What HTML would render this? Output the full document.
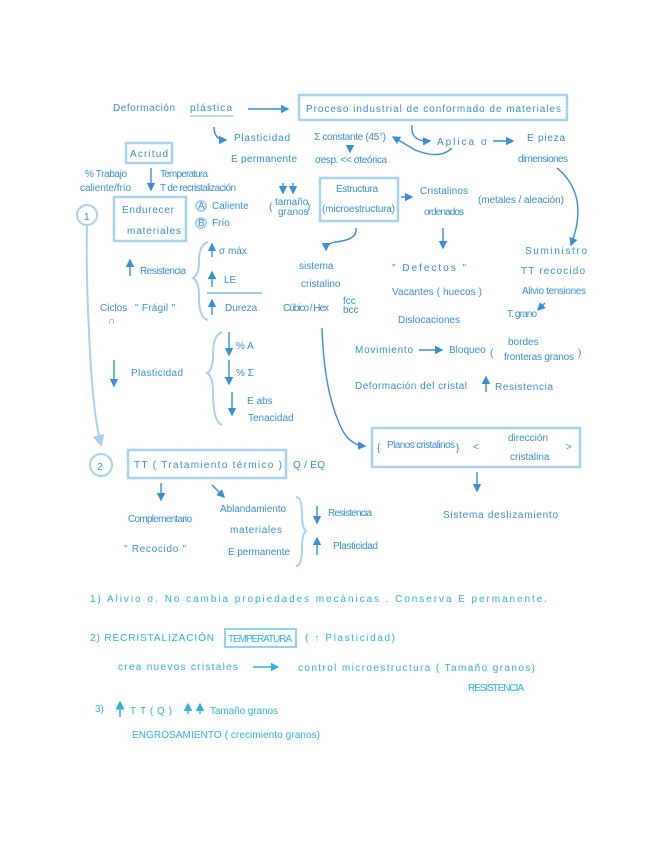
<!DOCTYPE html>
<html><head><meta charset="utf-8"><style>
html,body{margin:0;padding:0;background:#fff}
svg{display:block}
text{font-family:"Liberation Sans",sans-serif;fill:#3a8fd8;font-size:10px}
.c text{fill:#2fb3e0}
.b{fill:none;stroke:#a9d2f2;stroke-width:2.5}
.l{fill:none;stroke:#3a8fd8;stroke-width:1.4}
.ll{fill:none;stroke:#a9d2f2;stroke-width:2}
</style></head><body>
<svg width="655" height="848" viewBox="0 0 655 848" xmlns="http://www.w3.org/2000/svg">
<defs>
<marker id="a" markerWidth="6" markerHeight="6" refX="5" refY="3" orient="auto"><path d="M0,0L6,3L0,6z" fill="#3a8fd8"/></marker>
<marker id="a2" markerWidth="6" markerHeight="6" refX="5" refY="3" orient="auto"><path d="M0,0L6,3L0,6z" fill="#a9d2f2"/></marker>
<marker id="a3" markerWidth="6" markerHeight="6" refX="5" refY="3" orient="auto"><path d="M0,0L6,3L0,6z" fill="#2fb3e0"/></marker>
</defs>

<!-- top -->
<text x="113" y="111" font-size="11" textLength="62">Deformación</text>
<text x="190" y="111" font-size="11" textLength="42">plástica</text>
<line x1="190" y1="116" x2="233" y2="116" stroke="#a9d2f2" stroke-width="1.5"/>
<line class="l" x1="248" y1="109" x2="288" y2="109" marker-end="url(#a)"/>
<rect class="b" x="299" y="95" width="268" height="25"/>
<text x="306" y="112" textLength="255">Proceso industrial de conformado de materiales</text>

<path class="l" d="M214,127 Q214,140 226,140" marker-end="url(#a)"/>
<text x="234" y="141" textLength="56">Plasticidad</text>
<text x="231" y="162" textLength="66">E permanente</text>
<text x="314" y="140" textLength="72">Σ constante (45°)</text>
<line class="l" x1="350" y1="145" x2="350" y2="152" marker-end="url(#a)"/>
<text x="315" y="163" textLength="72">σesp. &lt;&lt; σteórica</text>
<path class="l" d="M412,125 Q410,142 430,141" marker-end="url(#a)"/>
<path class="l" d="M452,148 Q440,160 415,150 Q402,142 393,137" marker-end="url(#a)"/>
<text x="437" y="145" textLength="50">Aplica σ</text>
<line class="l" x1="493" y1="141" x2="513" y2="141" marker-end="url(#a)"/>
<text x="527" y="141" textLength="38">E pieza</text>
<text x="518" y="162" textLength="50">dimensiones</text>
<path class="l" d="M557,168 Q590,195 571,245" marker-end="url(#a)"/>

<rect class="b" x="126" y="143" width="46" height="20"/>
<text x="130" y="157" textLength="38">Acritud</text>
<text x="85" y="177" font-size="9" textLength="42">% Trabajo</text>
<text x="80" y="191" font-size="9" textLength="51">caliente/frío</text>
<line class="l" x1="151" y1="168" x2="151" y2="190" marker-end="url(#a)"/>
<text x="160" y="177" font-size="9" textLength="48">Temperatura</text>
<text x="160" y="191" font-size="9" textLength="76">T de recristalización</text>

<circle cx="87" cy="215" r="10" class="ll"/>
<text x="84" y="220" font-size="12">1</text>
<rect class="b" x="114" y="197" width="72" height="44"/>
<text x="122" y="213" textLength="52">Endurecer</text>
<text x="127" y="234" textLength="54">materiales</text>
<circle cx="201" cy="206" r="5" class="ll"/><text x="198" y="209" font-size="7">A</text>
<text x="212" y="209" font-size="9">Caliente</text>
<circle cx="201" cy="223" r="5" class="ll"/><text x="198" y="226" font-size="7">B</text>
<text x="212" y="226" font-size="9">Frío</text>

<line class="l" x1="283" y1="183" x2="283" y2="193" marker-end="url(#a)"/>
<line class="l" x1="293" y1="183" x2="293" y2="193" marker-end="url(#a)"/>
<text x="269" y="210" font-size="16">(</text><text x="307" y="210" font-size="16">)</text>
<text x="275" y="205" font-size="8">tamaño</text><text x="278" y="215" font-size="8">granos</text>
<rect class="b" x="320" y="178" width="78" height="43"/>
<text x="336" y="192" font-size="9" textLength="42">Estructura</text>
<text x="322" y="212" font-size="9" textLength="73">(microestructura)</text>
<line class="l" x1="401" y1="197" x2="412" y2="197" marker-end="url(#a)"/>
<text x="420" y="194" font-size="9" textLength="48">Cristalinos</text>
<text x="424" y="215" font-size="9" textLength="40">ordenados</text>
<text x="478" y="203" font-size="9" textLength="86">(metales / aleación)</text>
<line class="l" x1="443" y1="228" x2="443" y2="248" marker-end="url(#a)"/>

<path class="l" d="M356,228 Q358,240 335,242 Q326,244 326,250" marker-end="url(#a)"/>
<text x="299" y="269" font-size="9">sistema</text>
<text x="301" y="287" font-size="9">cristalino</text>
<text x="283" y="311" font-size="9" textLength="46">Cúbico / Hex</text>
<text x="343" y="304" font-size="7">fcc</text><text x="343" y="313" font-size="7">bcc</text>
<text x="392" y="271" font-size="9" textLength="74">" Defectos "</text>
<text x="392" y="295" font-size="9" textLength="90">Vacantes ( huecos )</text>
<text x="398" y="323" font-size="9" textLength="62">Dislocaciones</text>
<text x="525" y="254" font-size="9" textLength="62">Suministro</text>
<text x="521" y="274" font-size="9" textLength="64">TT recocido</text>
<text x="522" y="294" font-size="9" textLength="64">Alivio tensiones</text>
<text x="507" y="317" font-size="9" textLength="30">T. grano</text>
<line class="l" x1="545" y1="303" x2="538" y2="310" marker-end="url(#a)"/>

<line class="l" x1="130" y1="276" x2="130" y2="260" marker-end="url(#a)"/>
<text x="140" y="274" font-size="9" textLength="46">Resistencia</text>
<path class="ll" d="M208,242 Q198,245 199,265 Q198,275 193,278 Q198,281 199,292 Q198,318 208,320"/>
<line class="l" x1="212" y1="257" x2="212" y2="244" marker-end="url(#a)"/>
<text x="219" y="254" font-size="9">σ máx</text>
<line class="l" x1="212" y1="287" x2="212" y2="272" marker-end="url(#a)"/>
<text x="224" y="283" font-size="9">LE</text>
<line x1="207" y1="293" x2="262" y2="293" stroke="#3a8fd8" stroke-width="1"/>
<line class="l" x1="212" y1="315" x2="212" y2="300" marker-end="url(#a)"/>
<text x="225" y="311" font-size="9">Dureza</text>
<text x="100" y="311" font-size="9">Ciclos</text><text x="108" y="324" font-size="9">∩</text>
<text x="135" y="311" font-size="9" textLength="40">" Frágil "</text>

<line class="l" x1="114" y1="360" x2="114" y2="386" marker-end="url(#a)"/>
<text x="131" y="376" font-size="9" textLength="52">Plasticidad</text>
<path class="ll" d="M222,332 Q213,335 213,355 Q213,370 207,373 Q213,376 213,392 Q213,422 222,425"/>
<line class="l" x1="229" y1="332" x2="229" y2="355" marker-end="url(#a)"/><text x="236" y="349" font-size="9">% A</text>
<line class="l" x1="229" y1="360" x2="229" y2="384" marker-end="url(#a)"/><text x="236" y="376" font-size="9">% Σ</text>
<line class="l" x1="232" y1="392" x2="232" y2="415" marker-end="url(#a)"/>
<text x="247" y="404" font-size="9">E abs</text><text x="248" y="421" font-size="9">Tenacidad</text>

<path class="ll" d="M87,226 Q86,280 89,330 Q92,410 101,445" marker-end="url(#a2)"/>
<path class="l" d="M322,328 Q324,390 340,425 Q348,445 365,446" marker-end="url(#a)"/>

<text x="355" y="353" font-size="9" textLength="58">Movimiento</text>
<line class="l" x1="419" y1="350" x2="442" y2="350" marker-end="url(#a)"/>
<text x="449" y="353" font-size="9">Bloqueo</text>
<text x="490" y="356" font-size="14">(</text>
<text x="508" y="345" font-size="7">bordes</text>
<text x="504" y="360" font-size="7" textLength="70">fronteras granos</text>
<text x="578" y="356" font-size="14">)</text>
<text x="355" y="389" font-size="9" textLength="112">Deformación del cristal</text>
<line class="l" x1="486" y1="392" x2="486" y2="377" marker-end="url(#a)"/>
<text x="495" y="390" font-size="9" textLength="58">Resistencia</text>

<rect class="b" x="372" y="428" width="208" height="39"/>
<text x="377" y="451" font-size="16">{</text>
<text x="387" y="448" font-size="9" textLength="68">Planos cristalinos</text>
<text x="456" y="451" font-size="16">}</text>
<text x="473" y="450" font-size="12">&lt;</text>
<text x="508" y="441" font-size="9">dirección</text>
<text x="510" y="460" font-size="9">cristalina</text>
<text x="566" y="450" font-size="12">&gt;</text>
<line class="l" x1="477" y1="472" x2="477" y2="491" marker-end="url(#a)"/>
<text x="443" y="518" font-size="9" textLength="115">Sistema deslizamiento</text>

<circle cx="101" cy="465" r="11" class="ll"/>
<text x="97" y="470" font-size="12">2</text>
<rect class="b" x="128" y="450" width="158" height="28"/>
<text x="134" y="468" font-size="10" textLength="148">TT ( Tratamiento térmico )</text>
<text x="293" y="468" font-size="10" textLength="32">Q / EQ</text>
<line class="l" x1="161" y1="483" x2="161" y2="500" marker-end="url(#a)"/>
<line class="l" x1="212" y1="485" x2="224" y2="497" marker-end="url(#a)"/>
<text x="128" y="522" font-size="8" textLength="64">Complementario</text>
<text x="124" y="552" font-size="9" textLength="62">" Recocido "</text>
<text x="220" y="512" font-size="8" textLength="66">Ablandamiento</text>
<text x="230" y="533" font-size="8" textLength="52">materiales</text>
<text x="228" y="555" font-size="8" textLength="62">E permanente</text>
<path class="ll" d="M296,497 Q302,497 302,515 Q302,528 306,531 Q302,534 302,548 Q302,566 296,566"/>
<line class="l" x1="317" y1="506" x2="317" y2="523" marker-end="url(#a)"/>
<text x="328" y="516" font-size="8" textLength="44">Resistencia</text>
<line class="l" x1="317" y1="555" x2="317" y2="538" marker-end="url(#a)"/>
<text x="333" y="549" font-size="8" textLength="45">Plasticidad</text>

<!-- bottom -->
<g class="c">
<text x="90" y="602" font-size="10" textLength="457">1)  Alivio σ.    No cambia propiedades mecánicas .  Conserva  E  permanente.</text>
<text x="90" y="641" font-size="10" textLength="124">2) RECRISTALIZACIÓN</text>
<rect x="225" y="629" width="71" height="18" fill="none" stroke="#8fd6ee" stroke-width="2"/>
<text x="228" y="642" font-size="9" textLength="64">TEMPERATURA</text>
<text x="305" y="641" font-size="10" textLength="90">( ↑ Plasticidad)</text>
<text x="118" y="670" font-size="9" textLength="120">crea  nuevos  cristales</text>
<line x1="253" y1="667" x2="278" y2="667" stroke="#2fb3e0" stroke-width="1.4" marker-end="url(#a3)"/>
<text x="298" y="671" font-size="9" textLength="237">control  microestructura  ( Tamaño  granos)</text>
<text x="468" y="691" font-size="8" textLength="56">RESISTENCIA</text>
<text x="95" y="712" font-size="10">3)</text>
<line x1="120" y1="717" x2="120" y2="702" stroke="#2fb3e0" stroke-width="1.5" marker-end="url(#a3)"/>
<text x="130" y="714" font-size="10" textLength="42">TT(Q)</text>
<line x1="188" y1="714" x2="188" y2="704" stroke="#2fb3e0" stroke-width="1.4" marker-end="url(#a3)"/>
<line x1="200" y1="714" x2="200" y2="704" stroke="#2fb3e0" stroke-width="1.4" marker-end="url(#a3)"/>
<text x="210" y="714" font-size="9" textLength="68">Tamaño granos</text>
<text x="132" y="738" font-size="9" textLength="188">ENGROSAMIENTO ( crecimiento granos)</text>
</g>
</svg>
</body></html>
